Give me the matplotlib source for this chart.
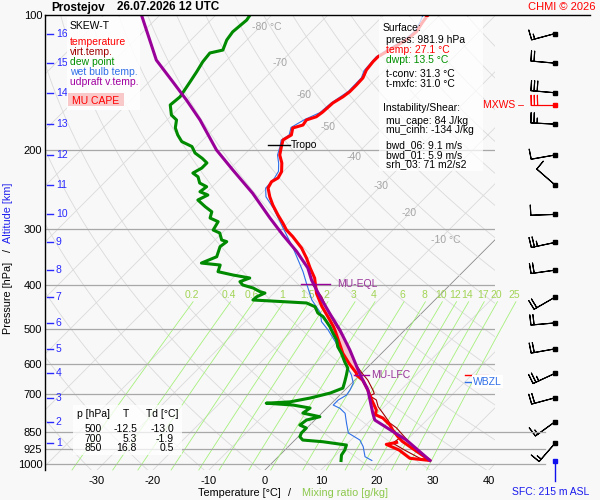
import numpy as np
import matplotlib
matplotlib.use('Agg')
import matplotlib.pyplot as plt
from matplotlib.patches import Rectangle
from matplotlib.lines import Line2D
from matplotlib.ticker import NullLocator, NullFormatter

plt.rcParams['font.family'] = ['Liberation Sans', 'DejaVu Sans']

# ---------------- data ----------------
temp_p = [100, 103.7, 108.9, 113.7, 118.4, 123.9, 127.0, 132.6, 138.1, 143.2, 148.2, 152.1, 157.0,
          164.5, 168.5, 171.3, 175.8, 178.5, 185.0, 189.8, 196.4, 205.0, 213.6, 223.3, 230.6, 235.1,
          242.8, 254.1, 265.0, 278.9, 290.6, 301.2, 311.6, 330.3, 347.9, 365.9, 385.3, 417.0, 446.0,
          470.0, 494.0, 503.0, 529.5, 567.0, 598.0, 628.0, 633.6, 650.0, 684.2, 720.2, 758.1, 776.0,
          790.0, 818.7, 840.0, 869.0, 890.0, 930.7, 982.0, 971.0, 930.7, 904.0, 895.0]
temp_t = [-52.1, -51.8, -51.2, -51.5, -52.5, -53.6, -53.6, -53.3, -52.5, -52.4, -52.4, -52.7, -53.4,
          -53.6, -53.9, -55.1, -54.8, -56.1, -55.1, -55.7, -54.8, -53.6, -51.8, -50.3, -49.8, -50.3,
          -49.8, -47.9, -45.9, -43.2, -40.9, -39.0, -36.7, -33.1, -30.4, -28.0, -25.4, -22.3, -19.0,
          -16.1, -13.4, -12.5, -10.1, -6.9, -3.9, -0.9, -0.6, 1.4, 4.1, 6.6, 9.2, 9.8,
          11.8, 14.3, 15.7, 17.8, 19.4, 23.2, 27.8, 23.8, 20.4, 17.1, 18.6]

dew_p = [100, 102.6, 109, 113.7, 119.7, 121.5, 127.1, 133.8, 140.7, 152.1, 158.6, 167.0, 171.3, 178.4,
         185.0, 191.4, 196.3, 202.9, 208.7, 213.5, 219.2, 224.9, 229.3, 236.7, 241.2, 247.5, 251.7,
         258.2, 267.2, 274.3, 283.2, 288.6, 301.2, 305.8, 317.0, 319.7, 328.0, 345.4, 356.8, 360.4,
         372.9, 379.4, 385.2, 392.5, 399.3, 405.5, 413.3, 416.1, 424.1, 431.2, 434.9, 437.8, 446.4,
         460.8, 469.6, 481.7, 494.3, 511.0, 529.5, 548.0, 566.4, 591.7, 611.3, 633.6, 655.8, 677.5,
         695.0, 713.0, 727.0, 732.0, 738.9, 750.4, 770.0, 784.6, 798.0, 818.7, 831.4, 853.0, 869.3,
         884.2, 891.9, 907.2, 930.7, 954.9, 982.0]
dew_t = [-83.9, -83.6, -84.0, -83.6, -82.5, -84.3, -84.0, -83.3, -82.7, -81.8, -82.1, -80.1, -78.3, -77.1,
         -75.4, -73.5, -70.8, -69.1, -66.8, -65.2, -65.2, -65.9, -64.3, -62.9, -61.0, -61.3, -59.3,
         -60.2, -57.7, -55.6, -54.8, -52.7, -52.1, -50.4, -48.8, -47.6, -47.9, -46.7, -48.3, -44.6,
         -43.8, -40.5, -37.0, -38.1, -37.0, -34.6, -32.7, -31.6, -32.4, -32.5, -26.8, -22.4, -20.2,
         -18.6, -17.0, -15.5, -14.0, -12.3, -10.4, -9.0, -7.2, -5.1, -3.4, -2.4, -1.5, -0.7,
         -2.1, -4.8, -7.7, -11.7, -6.6, -3.0, -3.4, 0.3, -1.5, -1.8, -0.1, -0.1, 0.3,
         1.4, 5.3, 10.1, 10.7, 11.0, 11.9]

wb_p = [100, 104, 109, 114, 118, 124, 133, 138, 148, 157, 165, 171, 178, 185, 190, 196, 205, 214, 223,
        231, 243, 254, 269, 298.5, 331, 373, 396, 431, 460, 481.7, 503, 525, 548, 576.6,
        601.9, 633.6, 661, 684, 702, 720, 739, 751.6, 771, 811.7, 853, 884, 915, 963, 982]
wb_t = [-53.0, -52.2, -51.6, -51.9, -52.9, -53.9, -53.6, -52.8, -52.7, -53.7, -54.0, -55.5, -56.5, -55.5,
        -56.0, -55.1, -54.0, -52.3, -50.9, -50.4, -50.2, -48.6, -45.3, -39.9, -34.5, -28.6, -25.9, -22.0,
        -18.2, -16.4, -13.7, -11.3, -8.9, -6.25, -4.2, -1.5, 0.3, 0.9, 1.2, 0.6, 0.6, 2.4, 4.2,
        6.25, 8.3, 11.6, 13.4, 15.5, 17.4]

vt_p = [399, 424, 463, 496, 529.5, 562, 596, 627, 650, 684, 697, 705, 720, 745, 770, 810, 831, 862,
        898, 931, 980, 970, 931, 898, 880]
vt_t = [-24.5, -20.8, -16.4, -12.6, -8.9, -5.9, -3.0, 0.0, 2.3, 5.0, 5.9, 5.5, 7.4, 8.9, 10.9, 13.9,
        16.0, 18.4, 21.1, 23.8, 27.3, 25.5, 21.4, 18.0, 18.3]

pc_p = [100, 126, 140.8, 154.6, 171.3, 199.8, 221.4, 249.5, 283.2, 309, 336.5, 366, 389.2, 424, 461.8,
        503, 557.3, 617.5, 640, 684, 770, 798, 884, 982]
pc_t = [-103.3, -92.6, -85.8, -80.1, -74.1, -65.8, -59.3, -51.6, -44.1, -38.75, -33.3, -28.4, -25.6,
        -21.1, -16.4, -11.6, -6.25, -1.2, 0.6, 4.1, 9.1, 10.7, 19.9, 27.8]

alt_km = [1, 2, 3, 4, 5, 6, 7, 8, 9, 10, 11, 12, 13, 14, 15, 16]
alt_p = [899, 805, 712, 628, 554, 485, 425, 370, 321, 278, 239, 205, 175, 149, 128, 110]
wind_dir = [221, 234, 255, 245, 260, 265, 240, 262, 258, 268, 311, 260, 273, 275, 275, 255]
wind_spd = [15, 15, 20, 25, 20, 20, 20, 20, 25, 10, 10, 10, 25, 30, 20, 15]
mxws_p, mxws_dir, mxws_spd = 158.6, 270, 30

p_levels = [100, 200, 300, 400, 500, 600, 700, 850, 925, 1000]
t_ticks = [-30, -20, -10, 0, 10, 20, 30, 40]
mix_ratios = [0.2, 0.4, 0.6, 1, 1.5, 2, 3, 4, 6, 8, 10, 12, 14, 17, 20, 25]
mix_labels = ['0.2', '0.4', '0.6', '1', '1.5', '2', '3', '4', '6', '8', '10', '12', '14', '17', '20', '25']
iso_lab_t = [-80, -70, -60, -50, -40, -30, -20, -10]
iso_lab_p = [106.5, 127.7, 150.7, 177.3, 206.8, 240.0, 276.5, 317.0]
iso_lab_txt = ['-80 °C', '-70', '-60', '-50', '-40', '-30', '-20', '-10 °C']

p_eql, p_lfc, p_tropo = 397.0, 632.0, 195.0
p_fzl, p_wbzl = 634.0, 656.0
sfc_p = 982.0

tab_p = ['500', '700', '850']
tab_t = ['-12.5', '5.3', '16.8']
tab_td = ['-13.0', '-1.9', '0.5']

info_lines = [('Surface:', 'k', 382.5, 27.7), ('press: 981.9 hPa', 'k', 386, 40.0),
              ('temp: 27.1 °C', 'red', 386, 50.0), ('dwpt: 13.5 °C', '#009000', 386, 60.0),
              ('t-conv: 31.3 °C', 'k', 386, 74.3), ('t-mxfc: 31.0 °C', 'k', 386, 84.3),
              ('Instability/Shear:', 'k', 382.5, 108.3), ('mu_cape: 84 J/kg', 'k', 386, 120.5),
              ('mu_cinh: -134 J/kg', 'k', 386, 130.0), ('bwd_06: 9.1 m/s', 'k', 386, 145.5),
              ('bwd_01: 5.9 m/s', 'k', 386, 155.0), ('srh_03: 71 m2/s2', 'k', 386, 164.5)]

# ---------------- helpers ----------------
BG = '#f8f8f8'
W, H = 600.0, 500.0
P0 = 1031.0
K = 34.82


def skx(t, p):
    return np.asarray(t, float) + K * np.log(P0 / np.asarray(p, float))


def td_from_w(w, p):
    e = w * np.asarray(p, float) / (622.0 + w)
    l = np.log(e / 6.112)
    return 243.5 * l / (17.67 - l)


def fx(px):
    return px / W


def fy(py):
    return 1.0 - py / H


def ftext(px, py, s, **kw):
    kw.setdefault('va', 'center')
    kw.setdefault('fontsize', 7.5)
    return fig.text(fx(px), fy(py), s, **kw)


fig = plt.figure(figsize=(6, 5), dpi=100, facecolor=BG)
ax = fig.add_axes([fx(45), fy(470), 450 / W, 455 / H])
ax.set_facecolor(BG)
ax.set_yscale('log')
ax.set_ylim(P0, 100)
ax.set_xlim(-39.3, 41.1)

pp = np.geomspace(100, P0, 200)
for t in range(-140, 50, 10):
    c = '#8a8a8a' if t == 0 else '#dadada'
    ax.plot(skx(np.full_like(pp, t), pp), pp, color=c, lw=0.6, zorder=1)
for th in range(230, 480, 10):
    tt = th * (pp / 1000.0) ** 0.2857 - 273.15
    ax.plot(skx(tt, pp), pp, color='#dadada', lw=0.6, zorder=1)

pm = np.geomspace(435, P0, 60)
for w, lab in zip(mix_ratios, mix_labels):
    td = td_from_w(w, pm)
    ax.plot(skx(td, pm), pm, color='#a6f07c', lw=0.6, zorder=1.5, clip_on=False)
    ax.text(float(skx(td_from_w(w, 440.0), 440.0)), 420, lab, color='#a2d455', fontsize=7.5,
            ha='center', va='center', zorder=2)

for lev in p_levels[1:]:
    ax.axhline(lev, color='#a8a8a8', lw=0.9, zorder=2)
fig.add_artist(Line2D([fx(45), fx(590)], [fy(15), fy(15)], color='k', lw=1.0,
                      transform=fig.transFigure))

for t, p, s in zip(iso_lab_t, iso_lab_p, iso_lab_txt):
    ax.text(float(skx(t, p)) - 1.4, p, s, color='#a5a5a5', fontsize=7.5, ha='left', va='center', zorder=2)

for sp in ['top', 'right', 'bottom']:
    ax.spines[sp].set_visible(False)
ax.spines['left'].set_linewidth(1.0)
ax.set_yticks(p_levels)
ax.set_yticklabels([str(v) for v in p_levels])
ax.yaxis.set_minor_locator(NullLocator())
ax.yaxis.set_minor_formatter(NullFormatter())
ax.tick_params(axis='y', length=0, pad=2, labelsize=8)
ax.set_xticks(t_ticks)
ax.set_xticklabels([str(v) for v in t_ticks])
ax.tick_params(axis='x', length=0, pad=4, labelsize=8)

# CAPE area
tp = np.array(temp_p)
tt_ = np.array(temp_t)
pg = np.geomspace(p_eql, p_lfc, 80)
t_env = np.interp(np.log(pg), np.log(tp[:57]), tt_[:57])
t_par = np.interp(np.log(pg), np.log(pc_p), pc_t)
ax.fill_betweenx(pg, skx(t_env, pg), skx(t_par, pg), where=t_par >= t_env, color='#f6c4cc', lw=0, zorder=3)

# profiles
ax.plot(skx(wb_t, wb_p), wb_p, color='#2f6fe8', lw=0.8, zorder=4)
ax.plot(skx(vt_t, vt_p), vt_p, color='#a00000', lw=0.8, zorder=4.5)
ax.plot(skx(temp_t, temp_p), temp_p, color='#ff0000', lw=2.2, zorder=5)
ax.plot(skx(dew_t, dew_p), dew_p, color='#008a00', lw=2.2, zorder=5)
ax.plot(skx(pc_t, pc_p), pc_p, color='#990099', lw=2.2, zorder=6)

# level markers
xe = float(skx(np.interp(np.log(p_eql), np.log(pc_p), pc_t), p_eql))
ax.plot([xe - 2.3, xe + 3.0], [p_eql, p_eql], color='#990099', lw=1.0, zorder=7)
ax.text(xe + 4.3, p_eql, 'MU-EQL', color='#993399', fontsize=7.5, va='center', zorder=7)
xl = float(skx(np.interp(np.log(p_lfc), np.log(pc_p), pc_t), p_lfc))
ax.plot([xl - 1.1, xl + 1.6], [p_lfc, p_lfc], color='#990099', lw=1.0, zorder=7)
ax.text(xl + 2.0, p_lfc, 'MU-LFC', color='#993399', fontsize=7.5, va='center', zorder=7)
xt = float(skx(np.interp(np.log(p_tropo), np.log(tp[:57]), tt_[:57]), p_tropo))
ax.plot([xt - 2.5, xt + 1.4], [p_tropo, p_tropo], color='k', lw=1.0, zorder=7)
ax.text(xt + 1.7, p_tropo, 'Tropo', color='k', fontsize=7.5, va='center', zorder=7)

trans = ax.get_yaxis_transform()
ax.plot([0.9333, 0.9467], [p_fzl, p_fzl], transform=trans, color='red', lw=1.0, zorder=8)
ax.plot([0.9540, 0.9840], [p_fzl - 1.5, p_fzl - 1.5], transform=trans, color='red', lw=0.8, zorder=8)
ax.plot([0.9333, 0.9467], [p_wbzl, p_wbzl], transform=trans, color='#2f6fe8', lw=1.0, zorder=9)
ax.text(0.9511, p_wbzl, 'WBZL', transform=trans, color='#2f6fe8', fontsize=7.5, va='center', zorder=9,
        bbox=dict(facecolor='white', edgecolor='none', pad=1.0))

for km, p in zip(alt_km, alt_p):
    ax.plot([0.0044, 0.0178], [p, p], transform=trans, color='#2a2aff', lw=1.0, zorder=8, clip_on=False)
    ax.text(0.024, p, str(km), transform=trans, color='#2a2aff', fontsize=7.5, va='center', zorder=8)

# boxes (semi transparent)
def fbox(x0, y0, x1, y1, color='white', alpha=0.75):
    fig.add_artist(Rectangle((fx(x0), fy(y1)), (x1 - x0) / W, (y1 - y0) / H, transform=fig.transFigure,
                             facecolor=color, edgecolor='none', alpha=alpha))

fbox(67, 17, 140, 110, alpha=0.85)
fbox(379, 17, 483, 171, alpha=0.72)
fbox(73, 405, 182, 455, alpha=0.75)
fbox(68, 93, 124, 106, color='#f9c8c8', alpha=1.0)

ftext(70, 25.7, 'SKEW-T', color='k', ha='left')
for s, c, y in [('temperature', 'red', 42.3), ('virt.temp.', '#a00000', 52.3), ('dew point', '#009000', 61.9),
                ('wet bulb temp.', '#2f6fe8', 72.3), ('udpraft v.temp.', '#a000a0', 82.3)]:
    ftext(70, y, s, color=c, ha='left')
ftext(96, 100.5, 'MU CAPE', color='red', ha='center')

for s, c, x, y in info_lines:
    ftext(x, y, s, color=c, ha='left')

ftext(77, 414, 'p [hPa]', ha='left')
ftext(126, 414, 'T', ha='center')
ftext(146, 414, 'Td [°C]', ha='left')
for i, (a, b, c) in enumerate(zip(tab_p, tab_t, tab_td)):
    yy = 429 + 9.5 * i
    ftext(102, yy, a, ha='right')
    ftext(137, yy, b, ha='right')
    ftext(174, yy, c, ha='right')

# titles and axis labels
ftext(51, 7.5, 'Prostejov', fontweight='bold', fontsize=8.5, ha='left')
ftext(117, 7.5, '26.07.2026 12 UTC', fontweight='bold', fontsize=8.5, ha='left')
ftext(596, 7, 'CHMI © 2026', color='red', ha='right', fontsize=8)
ftext(8, 298, 'Pressure [hPa]', rotation=90, ha='center', fontsize=7.8)
ftext(8, 251, '/', rotation=90, ha='center', fontsize=7.8)
ftext(8, 213, 'Altitude [km]', rotation=90, ha='center', color='#2020ee', fontsize=7.8)
ftext(281, 493, 'Temperature [°C]', ha='right', fontsize=7.8)
ftext(289, 493, '/', ha='center', fontsize=7.8)
ftext(302, 493, 'Mixing ratio [g/kg]', ha='left', color='#8cc84b', fontsize=7.8)
ftext(483, 105, 'MXWS –', color='red', ha='left')
ftext(551, 492, 'SFC: 215 m ASL', color='#1a1aee', ha='center')

# wind barbs column
axb = fig.add_axes([fx(495), fy(470), 105 / W, 455 / H])
axb.set_yscale('log')
axb.set_ylim(P0, 100)
axb.set_xlim(0, 105)
axb.axis('off')
for lev in [850, 925, 1000]:
    axb.plot([0, 50], [lev, lev], color='#a8a8a8', lw=0.9)
d = np.deg2rad(wind_dir)
s = np.array(wind_spd, float)
xb = np.full(len(alt_p), 60.0)
bsz = dict(width=0.02, spacing=0.13, height=0.42)
BL = 5.9
axb.barbs(xb, alt_p, -s * np.sin(d), -s * np.cos(d), length=BL, linewidth=0.8, color='k',
          sizes=bsz, pivot='tip', clip_on=False)
axb.plot(xb, alt_p, 's', color='k', ms=2.5, clip_on=False)
dm = np.deg2rad(mxws_dir)
axb.barbs([60.0], [mxws_p], [-mxws_spd * np.sin(dm)], [-mxws_spd * np.cos(dm)], length=BL, linewidth=0.8,
          color='red', sizes=bsz, pivot='tip', clip_on=False)
axb.plot([60.0], [mxws_p], 's', color='red', ms=2.5, clip_on=False)
axb.plot([60, 60], [sfc_p, 1090], color='#1010ee', lw=1.0, clip_on=False)
axb.plot([60], [sfc_p], 's', color='#1010ee', ms=2.5, clip_on=False)

fig.savefig('out.png', dpi=100, facecolor=BG)
